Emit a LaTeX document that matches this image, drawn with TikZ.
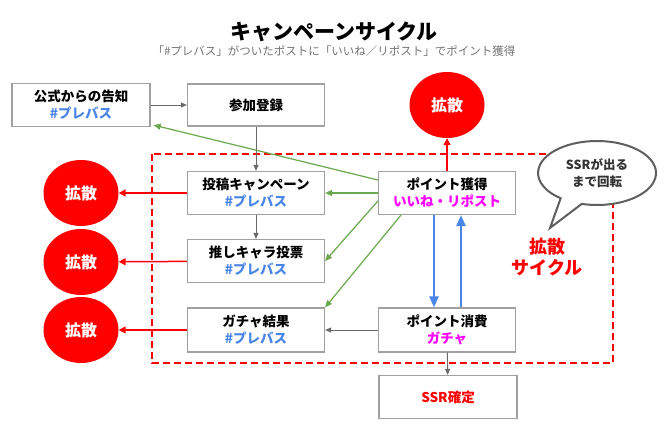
\documentclass[tikz,border=0pt]{standalone}
\usepackage{fontspec}
\setmainfont{Noto Sans CJK JP}
\usetikzlibrary{arrows.meta,positioning,shapes.geometric,calc}
\definecolor{kakured}{RGB}{255,0,0}
\definecolor{tagblue}{RGB}{74,134,232}
\definecolor{ptpink}{RGB}{255,0,255}
\definecolor{ptgreen}{RGB}{106,168,79}
\definecolor{boxgray}{RGB}{160,160,160}
\definecolor{linegray}{RGB}{105,105,105}
\definecolor{bubgray}{RGB}{95,95,95}

\begin{document}
\begin{tikzpicture}[x=1pt, y=1pt, every node/.style={font=\bfseries\fontsize{13.5}{17}\selectfont},
  box/.style={draw=boxgray, line width=1.2pt, fill=white, minimum width=137pt, minimum height=43pt, align=center, inner sep=0pt},
  kaku/.style={ellipse, fill=kakured, minimum width=75pt, minimum height=66pt, inner sep=0pt, text=white, font=\bfseries\fontsize{16}{18}\selectfont},
  grayarr/.style={draw=linegray, line width=0.9pt, -{Triangle[length=6pt,width=5pt]}},
  greenarr/.style={draw=ptgreen, line width=1.2pt, -{Triangle[length=7pt,width=6pt]}},
  redarr/.style={draw=kakured, line width=1.5pt, -{Triangle[length=7pt,width=7pt]}},
  bluearr/.style={draw=tagblue, line width=2.5pt, -{Triangle[length=11pt,width=9pt]}}]
  \useasboundingbox[fill=white] (0,0) rectangle (668,-435);
  % title
  \node[font=\bfseries\fontsize{21}{24}\selectfont] (title) at (334,-32) {キャンペーンサイクル};
  \node[font=\fontsize{11.5}{13}\selectfont, text=black!55] (sub) at (334,-51) {「\#プレバス」がついたポストに「いいね／リポスト」でポイント獲得};
  % cycle frame
  \draw[kakured, line width=1.5pt, dash pattern=on 7pt off 4pt] (152,-154) rectangle (613,-363);
  % boxes
  \node[box, minimum width=138pt] (kokuchi) at (81,-105) {公式からの告知\\{\color{tagblue}\#プレバス}};
  \node[box, minimum height=42pt] (sanka) at (256,-105) {参加登録};
  \node[box] (toukou) at (256,-193) {投稿キャンペーン\\{\color{tagblue}\#プレバス}};
  \node[box] (oshi) at (256,-261) {推しキャラ投票\\{\color{tagblue}\#プレバス}};
  \node[box, minimum height=44pt] (gacha) at (256,-330) {ガチャ結果\\{\color{tagblue}\#プレバス}};
  \node[box] (getPt) at (447,-193) {ポイント獲得\\{\color{ptpink}いいね・リポスト}};
  \node[box, minimum height=44pt] (usePt) at (447,-330) {ポイント消費\\{\color{ptpink}ガチャ}};
  \node[box, minimum width=138pt] (ssr) at (448,-397) {\color{kakured}SSR確定};
  % kakusan circles
  \node[kaku] (kakuTop) at (447,-105) {拡散};
  \foreach \b/\c/\y in {toukou/kakuA/193, oshi/kakuB/262, gacha/kakuC/330} {
    \node[kaku] (\c) at (81,-\y) {拡散};
    \draw[redarr] (\b) -- (\c);
  }
  \draw[redarr] (getPt) -- (kakuTop);
  % flow
  \draw[grayarr] (kokuchi) -- (sanka);
  \draw[grayarr] (sanka) -- (toukou);
  \draw[grayarr] (toukou) -- (oshi);
  \draw[grayarr] (usePt) -- (gacha);
  \draw[grayarr] (usePt) -- (ssr);
  \draw[greenarr] ([yshift=13pt]getPt.west) -- ([xshift=3pt,yshift=2pt]kokuchi.south east);
  \draw[greenarr] (getPt.west) -- (toukou.east);
  \draw[greenarr] ([yshift=-8pt]getPt.west) -- (oshi.east);
  \draw[greenarr] ([xshift=-46pt]getPt.south) -- (gacha.north east);
  \draw[bluearr] ([xshift=-13pt]getPt.south) -- ([xshift=-13pt]usePt.north);
  \draw[bluearr] ([xshift=14pt]usePt.north) -- ([xshift=14pt]getPt.south);
  % cycle label
  \node[text=kakured, font=\bfseries\fontsize{18}{21}\selectfont, align=center] (cyc) at (547,-257) {拡散\\サイクル};
  % speech bubble
  \coordinate (bubc) at (597,-173);
  \draw[draw=bubgray, line width=2pt, fill=white] ($(bubc)+(255:59pt and 32pt)$)
    arc[start angle=255, end angle=592, x radius=59pt, y radius=32pt] -- (550,-228) -- cycle;
  \node[align=center, text=black!80, font=\bfseries\fontsize{12.5}{17}\selectfont] (bub) at (bubc) {SSRが出る\\まで回転};
\end{tikzpicture}
\end{document}
